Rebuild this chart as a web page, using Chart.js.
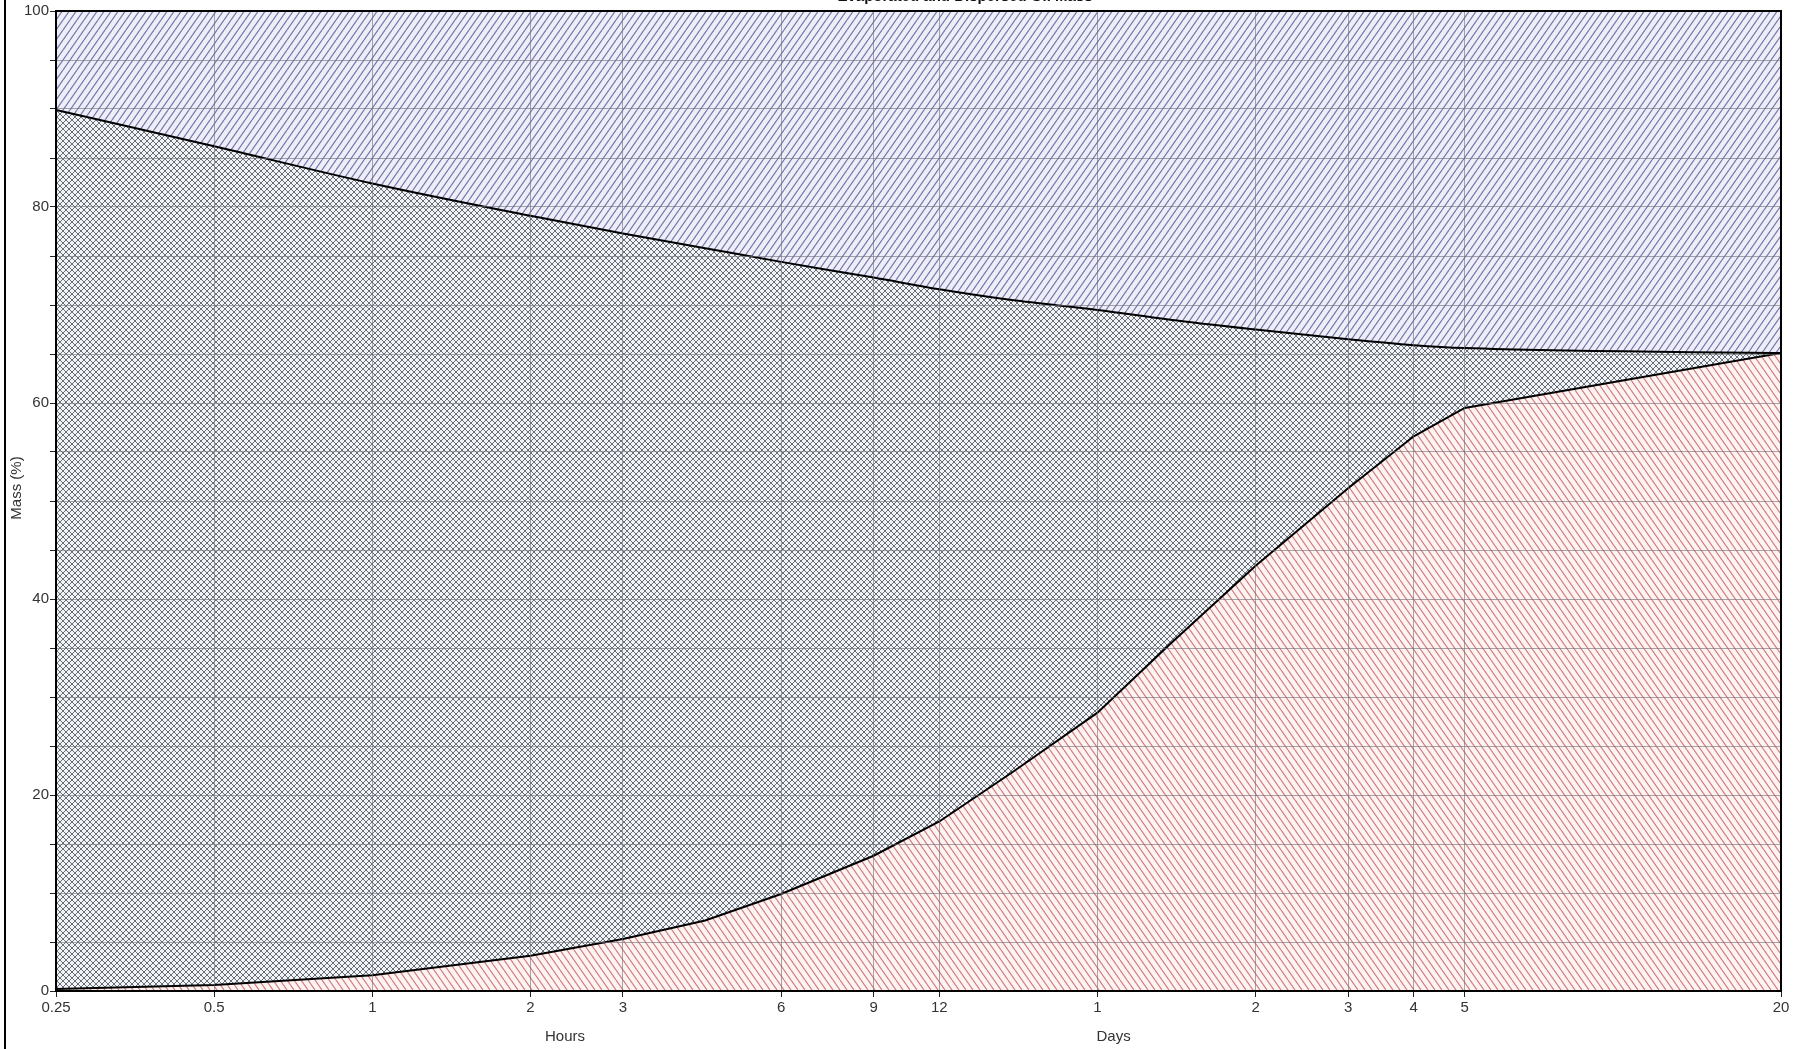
<!DOCTYPE html>
<html>
<head>
<meta charset="utf-8">
<script src="https://cdn.jsdelivr.net/npm/chart.js@4"></script>
<style>
  html, body { margin: 0; padding: 0; background: #fff; }
  #wrap { width: 1802px; height: 1049px; }
</style>
</head>
<body>
<div id="wrap"><canvas id="c" width="1802" height="1049"></canvas></div>
<script>
// time in hours, log axis
var timesH   = [0.25, 0.5, 1, 2, 3, 4.3, 6, 9, 12, 16.5, 24, 33, 48, 72, 96, 120, 480];
var upperPct = [89.9, 86.2, 82.4, 79.1, 77.3, 75.8, 74.4, 72.8, 71.6, 70.5, 69.5, 68.5, 67.5, 66.5, 65.9, 65.6, 65.1];
var lowerPct = [0.2, 0.6, 1.6, 3.6, 5.3, 7.2, 9.9, 13.8, 17.3, 22.3, 28.4, 35.4, 43.4, 51.3, 56.6, 59.5, 65.1];

var hourTicks = [0.25, 0.5, 1, 2, 3, 6, 9, 12];
var dayTicks  = [1, 2, 3, 4, 5, 20];

var titleText = 'Evaporated and Dispersed Oil Mass';
var FONT = '"Liberation Sans Narrow", "Arial Narrow", "Liberation Sans", sans-serif';

function pts(ys) {
	return timesH.map(function (t, i) { return { x: t, y: ys[i] }; });
}

// hatch tile; dirs: '/' and/or '\'
function hatch(bg, fg, w, h, dirs, lw) {
	var c = document.createElement('canvas');
	c.width = w; c.height = h;
	var g = c.getContext('2d');
	g.fillStyle = bg;
	g.fillRect(0, 0, w, h);
	g.strokeStyle = fg;
	g.lineWidth = lw;
	dirs.forEach(function (d) {
		for (var k = -1; k <= 1; k++) {
			var o = k * w;
			g.beginPath();
			if (d === '/') { g.moveTo(o, h); g.lineTo(o + w, 0); }
			else { g.moveTo(o, 0); g.lineTo(o + w, h); }
			g.stroke();
		}
	});
	return g.createPattern(c, 'repeat');
}

var blueFill  = hatch('#eeeef8', '#7474a8', 7, 10, ['/'], 1.2);
var crossFill = hatch('#f0f4f8', '#6a6e74', 6, 6, ['/', '\\'], 1);
var redFill   = hatch('#fdf3f3', '#d07c7c', 7, 10, ['\\'], 1.2);

var decor = {
	id: 'decor',
	afterDraw: function (chart) {
		var ctx = chart.ctx, a = chart.chartArea, x = chart.scales.x;
		ctx.save();
		// plot frame
		ctx.strokeStyle = '#000';
		ctx.lineWidth = 2;
		ctx.strokeRect(a.left, a.top, a.right - a.left, a.bottom - a.top);
		// outer left edge
		ctx.beginPath();
		ctx.moveTo(5, 0); ctx.lineTo(5, 1049);
		ctx.stroke();
		// title, cut off at the top like the source
		ctx.fillStyle = '#111';
		ctx.font = 'bold 15px ' + FONT;
		ctx.textAlign = 'center';
		ctx.textBaseline = 'alphabetic';
		ctx.fillText(titleText, 965, 1);
		// axis captions
		ctx.fillStyle = '#333';
		ctx.font = '15px ' + FONT;
		ctx.textBaseline = 'middle';
		ctx.fillText('Hours', 565, 1037);
		ctx.textAlign = 'left';
		ctx.fillText('Days', x.getPixelForValue(24) - 1, 1037);
		ctx.translate(17, 488);
		ctx.rotate(-Math.PI / 2);
		ctx.textAlign = 'center';
		ctx.fillText('Mass (%)', 0, 0);
		ctx.restore();
	}
};

var gridOpts = { z: 1, color: 'rgba(110,110,120,0.6)', lineWidth: 1, tickLength: 6, tickColor: '#222' };

new Chart(document.getElementById('c'), {
	type: 'line',
	data: {
		datasets: [
			{ data: pts(upperPct), fill: 'end', backgroundColor: blueFill, borderColor: '#000', borderWidth: 2, pointRadius: 0, cubicInterpolationMode: 'monotone' },
			{ data: pts(lowerPct), fill: '-1', backgroundColor: crossFill, borderColor: '#000', borderWidth: 2, pointRadius: 0, tension: 0 },
			{ data: pts(lowerPct), fill: 'origin', backgroundColor: redFill, borderWidth: 0, pointRadius: 0, tension: 0 }
		]
	},
	options: {
		responsive: false,
		animation: false,
		layout: { padding: { left: 0, right: 21, top: 11, bottom: 0 } },
		plugins: { legend: { display: false }, tooltip: { enabled: false }, title: { display: false } },
		scales: {
			x: {
				type: 'logarithmic',
				min: 0.25,
				max: 480,
				border: { display: false },
				grid: gridOpts,
				afterBuildTicks: function (s) {
					s.ticks = hourTicks.concat(dayTicks.map(function (d) { return d * 24; }))
						.map(function (v) { return { value: v }; });
				},
				afterFit: function (s) { s.height = 58; },
				ticks: {
					autoSkip: false, maxRotation: 0, padding: 2,
					color: '#333', font: { family: FONT, size: 15 },
					callback: function (v) { return v < 24 ? String(v) : String(v / 24); }
				}
			},
			y: {
				min: 0,
				max: 100,
				border: { display: false },
				grid: gridOpts,
				afterFit: function (s) { s.width = 56; },
				ticks: {
					stepSize: 5, autoSkip: false, padding: 1,
					color: '#333', font: { family: FONT, size: 15 },
					callback: function (v) { return v % 20 === 0 ? String(v) : ''; }
				}
			}
		}
	},
	plugins: [decor]
});
</script>
</body>
</html>
